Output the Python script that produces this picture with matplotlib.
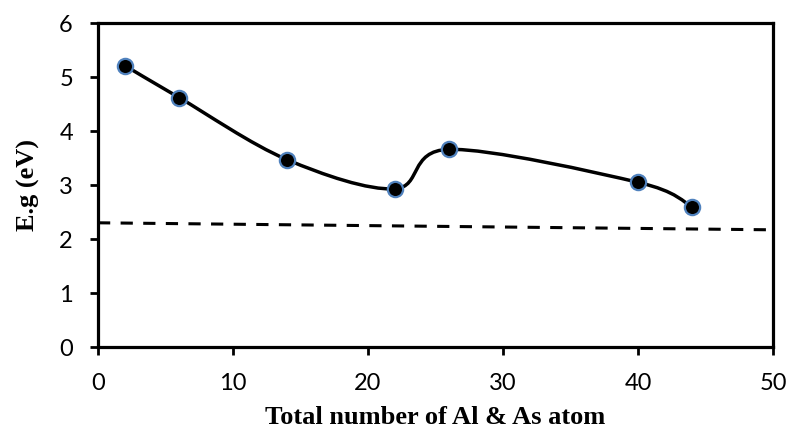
import matplotlib
matplotlib.use("Agg")
import matplotlib.pyplot as plt
from matplotlib.path import Path
from matplotlib.patches import PathPatch

# data
atoms = [2, 6, 14, 22, 26, 40, 44]
gap = [5.21, 4.62, 3.47, 2.93, 3.66, 3.05, 2.6]
trend_x = [0, 50]
trend_y = [2.3, 2.17]


def smooth_path(xs, ys):
    # Excel-style smoothed line: cubic bezier segments, Catmull-Rom control points
    pts = list(zip(xs, ys))
    verts = [pts[0]]
    codes = [Path.MOVETO]
    n = len(pts)
    for i in range(n - 1):
        p0 = pts[i - 1] if i > 0 else pts[i]
        p1 = pts[i]
        p2 = pts[i + 1]
        p3 = pts[i + 2] if i + 2 < n else pts[i + 1]
        c1 = (p1[0] + (p2[0] - p0[0]) / 6, p1[1] + (p2[1] - p0[1]) / 6)
        c2 = (p2[0] - (p3[0] - p1[0]) / 6, p2[1] - (p3[1] - p1[1]) / 6)
        verts += [c1, c2, p2]
        codes += [Path.CURVE4] * 3
    return Path(verts, codes)


fig = plt.figure(figsize=(7.88, 4.32), dpi=100)
ax = fig.add_axes([98 / 788, 1 - 347 / 432, 675 / 788, 324 / 432])

ax.add_patch(PathPatch(smooth_path(atoms, gap), facecolor="none",
                       edgecolor="black", lw=2.5, zorder=3))
ax.plot(atoms, gap, "o", ms=11, mfc="black", mec="#4f81bd", mew=1.6, zorder=4)
ax.plot(trend_x, trend_y, "--", color="black", lw=2.2, dashes=(4, 3.4), zorder=2)

ax.set_xlim(0, 50)
ax.set_ylim(0, 6)
ax.set_xticks(range(0, 51, 10))
ax.set_yticks(range(0, 7))

for s in ax.spines.values():
    s.set_linewidth(2.3)
ax.tick_params(direction="out", length=6, width=2, labelsize=17)
ax.tick_params(axis="x", pad=13)
ax.tick_params(axis="y", pad=12)
for lab in ax.get_xticklabels() + ax.get_yticklabels():
    lab.set_family("Lato")

ax.set_xlabel("Total number of Al & As atom", family="Liberation Serif",
              fontweight="bold", fontsize=19, labelpad=8)
ax.set_ylabel("E.g (eV)", family="Liberation Serif", fontweight="bold",
              fontsize=19, labelpad=14)

fig.savefig("out.png", dpi=100)
